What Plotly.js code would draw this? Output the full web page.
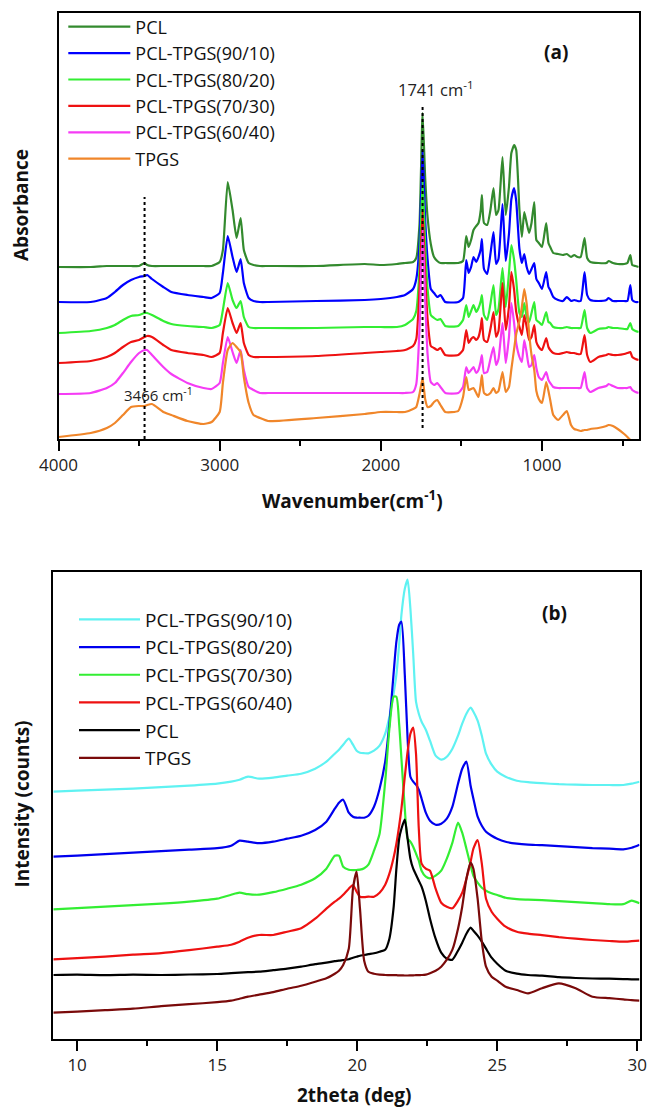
<!DOCTYPE html>
<html>
<head>
<meta charset="utf-8">
<script src="https://cdn.plot.ly/plotly-3.0.1.min.js"></script>
<style>
  html, body { margin: 0; padding: 0; background: #ffffff; }
  #chart { width: 652px; height: 1110px; }
</style>
</head>
<body>
<div id="chart"></div>
<script>
// ---------- Panel (a): FTIR ----------
const ftirLabels = ["PCL", "PCL-TPGS(90/10)", "PCL-TPGS(80/20)", "PCL-TPGS(70/30)", "PCL-TPGS(60/40)", "TPGS"];
const ftirColors = ["#338a2e", "#0000ff", "#33ee33", "#ee1111", "#f53cf5", "#f0862a"];

const wavenumber = [4000,3800,3700,3650,3600,3550,3500,3466,3450,3420,3350,3300,3200,3100,3050,3000,2980,2950,2920,2895,2870,2850,2820,2790,2750,2700,2400,2100,2000,1900,1850,1800,1780,1760,1741,1725,1710,1690,1670,1650,1630,1600,1520,1490,1470,1455,1440,1425,1408,1394,1380,1373,1360,1340,1320,1301,1285,1270,1245,1225,1205,1190,1173,1160,1140,1125,1110,1095,1080,1065,1048,1035,1020,1000,974,960,949,930,900,870,846,820,800,780,760,736,720,700,650,600,587,560,530,490,470,452,440,420,400];

const absPCL = [172,172,173,173,173,173,173,176,174,173, 173,173,173,173,173,177,189,257,229,201, 221,189,176,174,173,173,173,175,174,175, 176,177,181,215,326,262,222,195,182,178, 176,176,176,178,203,192,199,209,213,216, 229,244,216,214,229,251,224,229,282,224, 252,286,294,289,229,202,227,216,206,216, 237,199,196,192,216,196,192,186,185,184, 185,182,184,182,182,201,181,177,176,176, 178,176,175,175,176,184,174,173,172];
const abs9010 = [137,137,141,147,154,159,162,163,164,160, 152,147,144,142,141,146,166,203,182,167, 180,156,141,138,137,137,138,139,140,142, 144,150,160,195,289,220,180,150,146,142, 144,137,137,141,179,166,172,182,177,182, 190,200,170,165,185,207,175,180,235,178, 205,240,251,238,190,176,185,172,165,170, 176,160,156,150,167,152,149,142,139,138, 142,138,139,138,138,167,144,139,138,139, 141,138,138,138,138,154,139,137,137];
const abs8020 = [106,108,111,114,119,123,124,126,126,124, 118,115,113,112,111,114,129,156,139,131, 138,122,112,111,111,111,111,112,112,112, 114,120,128,170,258,195,150,124,121,119, 120,113,113,119,134,122,128,134,127,131, 138,144,124,119,135,154,124,130,171,132, 166,194,179,159,126,122,136,122,117,126, 137,119,117,114,127,117,116,112,111,111, 112,111,111,111,111,129,111,106,110,111, 112,111,111,110,110,116,110,108,107];
const abs7030 = [76,78,82,86,92,97,99,102,103,102, 94,89,86,84,82,86,106,131,116,106, 116,96,84,82,82,82,83,86,87,88, 89,93,100,150,228,165,120,93,91,89, 91,84,84,89,109,96,100,102,99,102, 112,121,99,97,110,127,102,108,156,109, 132,167,149,127,112,104,124,112,99,102, 114,97,92,89,101,92,89,86,85,86, 87,86,86,85,85,104,84,77,82,84, 85,84,84,85,86,87,82,80,79];
const abs6040 = [45,46,51,56,66,77,86,89,89,84, 72,65,56,51,50,56,76,102,87,76, 89,69,52,49,46,46,46,46,46,46, 46,47,55,110,210,140,85,57,54,56, 52,46,46,52,72,66,69,72,66,69, 78,84,66,67,80,92,74,80,116,76, 102,136,116,96,82,77,99,86,72,74, 84,71,62,59,67,59,56,52,51,51, 51,51,51,51,51,67,51,47,51,53, 55,53,51,51,51,52,49,47,46];
const absTPGS = [2,6,11,16,24,32,33,33,34,35, 27,24,18,15,17,27,56,89,96,92, 87,62,36,24,21,18,21,25,27,27, 27,30,32,45,61,40,32,33,37,39, 34,27,28,42,62,49,50,51,46,42, 55,64,46,44,46,51,46,48,67,47, 52,70,90,105,118,132,150,135,106,84, 69,48,40,36,57,48,39,24,19,24, 28,14,10,9,8,9,9,10,11,13, 14,13,10,5,2,-1,-4,-9,-14];
const ftirSeries = [absPCL, abs9010, abs8020, abs7030, abs6040, absTPGS];

// dotted reference lines (wavenumber, bottom and top of the line in absorbance units)
const refWavenumbers = [3466, 1741];
const refLineBottom = [0, 11];
const refLineTop = [242, 332];

// ---------- Panel (b): XRD ----------
const xrdLabels = ["PCL-TPGS(90/10)", "PCL-TPGS(80/20)", "PCL-TPGS(70/30)", "PCL-TPGS(60/40)", "PCL", "TPGS"];
const xrdColors = ["#5ff2f2", "#0000ee", "#33ee33", "#ee1111", "#000000", "#7a0a0a"];

const twoTheta = [9.15,10,11,12,13,14,15,15.5,15.8,16.1,16.5,17,17.5,18,18.5,18.9,19.2,19.35,19.5,19.7,19.85,19.98,20.1,20.25,20.4,20.6,20.8,21.0,21.15,21.3,21.4,21.5,21.58,21.7,21.8,21.9,22.0,22.1,22.2,22.3,22.45,22.6,22.8,23.0,23.2,23.4,23.6,23.75,23.9,24.05,24.15,24.3,24.45,24.6,24.8,25.0,25.3,25.7,26.1,26.6,27.2,27.8,28.4,29.0,29.5,29.8,30.08];

const int9010 = [247,248,249,250,251.5,253,255,257,259,262, 260,261,263,265,270,277,285,289,294,300, 294,288,286,285.5,285.4,288,293,305,322,345, 364,395,424,450,459,430,385,337,325,317, 309,298,283,279,282,290,303,315,325,331, 327,318,303,285,274,267,262,258,256.5,255.5, 254.5,254,253.7,253.7,253.7,255,257];
const int8020 = [182,183,184.5,186,187.5,189,190.5,193,198,197, 195.5,197,200,203,208.7,217,230,236,239,226, 222,221,221,221,223,232,250,277,315,365, 397,414,417,364,300,262,257,254,249,240, 226,218,214,215,220,232,255,270,277,253, 240,222,213,207,203,200,197,195,194,193.5, 192.5,191.5,190.5,190,189.4,191,194];
const int7030 = [129.4,130.5,132,133.5,135,137,140,144,146,144.5, 144,146.5,150,154,160.4,170,183,183,172,169, 168.5,168.7,169,170.5,174,188,205,257,310,342, 342,314,280,230,200,197,192,185,178,168, 162,160.4,163,168,180,196,216,206,190,173, 163,156,151,148,145.5,143.7,141,139.5,139,138.5, 137.5,136.5,135.5,134.5,134.5,138,135.4];
const int6040 = [79.4,80.5,82,84,85.5,88.5,92,94,97,101, 103.7,103.7,107,110.5,120,130,137,140,144,150, 153.7,147,142,141.5,142,142,146,154,165,181, 195,213,230,262,287,305,311,285,210,175, 170,168,150,136,132,130.4,138,146,160,177, 190,198.7,175,140,127,120,112,107,105,103.5, 101.5,100,98.7,97.7,97,97.5,98];
const intPCL = [63.7,64,63.5,64,63.7,64.2,64.7,65.5,66,66.5, 67,68.5,70,72,74.5,76,77.5,78,78.7,79.5, 81,82,83,83.7,84.5,85.4,87,89,100,131, 170,200,210,219,200,180,170,164,158,152, 138,120,100,86,80,79,88,96,105,111, 108,103,97,90,81,75,68,65,63.7,63, 61.5,60.7,60.2,60,59.6,59.4,59.4];
const intTPGS = [26,27,28.5,30,32.5,34.5,36.5,38,40,42, 44,46.5,50,53,57,60.4,65,68,73.7,90, 150,167,130,78,67,65,64,63.7,63.5,63.5, 63.5,63.3,63.3,63.2,63.2,63.3,63.4,63.5,63.6,63.7, 64,65.5,68,72,79,89,110,132,160,176, 170,140,97,72,62,58,52,48.7,45.4,50.5, 55.4,50.4,42,40.5,39.4,38.5,38];
const xrdSeries = [int9010, int8020, int7030, int6040, intPCL, intTPGS];

// ---------- traces ----------
const traces = [];
ftirSeries.forEach(function (ys, i) {
  traces.push({
    type: "scatter", mode: "lines", x: wavenumber, y: ys, name: ftirLabels[i],
    line: { color: ftirColors[i], width: 2.2, shape: "spline", smoothing: 0.5 },
    xaxis: "x", yaxis: "y", legend: "legend"
  });
});
refWavenumbers.forEach(function (wn, i) {
  traces.push({
    type: "scatter", mode: "lines", x: [wn, wn], y: [refLineBottom[i], refLineTop[i]],
    line: { color: "#000000", width: 2, dash: "dot" }, showlegend: false, xaxis: "x", yaxis: "y"
  });
});
xrdSeries.forEach(function (ys, i) {
  traces.push({
    type: "scatter", mode: "lines", x: twoTheta, y: ys, name: xrdLabels[i],
    line: { color: xrdColors[i], width: 2.2, shape: "spline", smoothing: 0.6 },
    xaxis: "x2", yaxis: "y2", legend: "legend2"
  });
});

const W = 652, H = 1110;
const tickFont = { family: "Open Sans, sans-serif", size: 17, color: "#222222" };
const frame = { showline: true, mirror: true, linewidth: 2, linecolor: "#000000", showgrid: false, zeroline: false };

function xAxisCommon(extra) {
  return Object.assign({}, frame, {
    ticks: "outside", ticklen: 10, tickwidth: 2, tickcolor: "#000000", tickfont: tickFont
  }, extra);
}
function yAxisCommon(extra) {
  return Object.assign({}, frame, { ticks: "", showticklabels: false }, extra);
}

const titleFont = { family: "Open Sans, sans-serif", size: 19, color: "#111111", weight: "bold" };
const noteFont = { family: "Open Sans, sans-serif", size: 16.5, color: "#222222" };

const layout = {
  width: W, height: H,
  margin: { l: 0, r: 0, t: 0, b: 0 },
  paper_bgcolor: "#ffffff", plot_bgcolor: "#ffffff",
  showlegend: true,
  xaxis: xAxisCommon({ domain: [58.5 / W, 638.7 / W], range: [4000, 400], anchor: "y",
    tick0: 0, dtick: 1000, minor: { ticks: "outside", ticklen: 5, tickwidth: 2, tickcolor: "#000000", dtick: 500, tick0: 0, showgrid: false } }),
  yaxis: yAxisCommon({ domain: [1 - 439 / H, 1 - 13.3 / H], range: [0, 425.7], anchor: "x" }),
  xaxis2: xAxisCommon({ domain: [53.3 / W, 639.5 / W], range: [9.15, 30.08], anchor: "y2",
    tick0: 0, dtick: 5, minor: { ticks: "outside", ticklen: 5, tickwidth: 2, tickcolor: "#000000", dtick: 2.5, tick0: 0, showgrid: false } }),
  yaxis2: yAxisCommon({ domain: [1 - 1038.7 / H, 1 - 571.7 / H], range: [0, 467], anchor: "x2" }),
  legend: {
    x: 63.3 / W, xanchor: "left", y: 1 - 8.5 / H, yanchor: "top",
    bgcolor: "rgba(0,0,0,0)", borderwidth: 0, itemwidth: 62, tracegroupgap: 0,
    font: { family: "Open Sans, sans-serif", size: 18, color: "#111111" }
  },
  legend2: {
    x: 74 / W, xanchor: "left", y: 1 - 600.5 / H, yanchor: "top",
    bgcolor: "rgba(0,0,0,0)", borderwidth: 0, itemwidth: 61, tracegroupgap: 0,
    font: { family: "Open Sans, sans-serif", size: 19, color: "#111111" }
  },
  annotations: [
    { xref: "paper", yref: "paper", x: 352 / W, y: 1 - 500.5 / H, text: "Wavenumber(cm<sup>-1</sup>)",
      showarrow: false, font: titleFont, xanchor: "center", yanchor: "middle" },
    { xref: "paper", yref: "paper", x: 21 / W, y: 1 - 205 / H, text: "Absorbance", textangle: -90,
      showarrow: false, font: titleFont, xanchor: "center", yanchor: "middle" },
    { xref: "paper", yref: "paper", x: 353.5 / W, y: 1 - 1095 / H, text: "2theta (deg)",
      showarrow: false, font: titleFont, xanchor: "center", yanchor: "middle" },
    { xref: "paper", yref: "paper", x: 21 / W, y: 1 - 804.5 / H, text: "Intensity (counts)", textangle: -90,
      showarrow: false, font: titleFont, xanchor: "center", yanchor: "middle" },
    { xref: "paper", yref: "paper", x: 436 / W, y: 1 - 89.3 / H, text: "1741 cm<sup>-1</sup>",
      showarrow: false, font: noteFont, xanchor: "center", yanchor: "middle" },
    { xref: "paper", yref: "paper", x: 158 / W, y: 1 - 395 / H, text: "3466 cm<sup>-1</sup>",
      showarrow: false, font: { family: "Open Sans, sans-serif", size: 15, color: "#222222" }, xanchor: "center", yanchor: "middle" },
    { xref: "paper", yref: "paper", x: 556 / W, y: 1 - 51.7 / H, text: "(a)",
      showarrow: false, font: titleFont, xanchor: "center", yanchor: "middle" },
    { xref: "paper", yref: "paper", x: 554 / W, y: 1 - 613.3 / H, text: "(b)",
      showarrow: false, font: titleFont, xanchor: "center", yanchor: "middle" }
  ]
};

Plotly.newPlot("chart", traces, layout, { staticPlot: true, displayModeBar: false });
</script>
</body>
</html>
